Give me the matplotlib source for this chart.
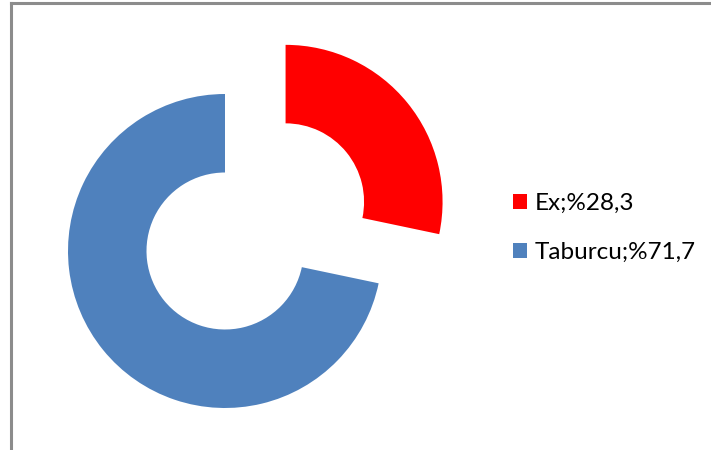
import matplotlib
matplotlib.use("Agg")
import matplotlib.pyplot as plt
from matplotlib.patches import Patch
from matplotlib.lines import Line2D

labels = ["Ex;%28,3", "Taburcu;%71,7"]
values = [28.3, 71.7]
colors = ["#FF0000", "#4F81BD"]

W, H = 711, 450
fig = plt.figure(figsize=(W / 100, H / 100), dpi=100)
ax = fig.add_axes([0, 0, 1, 1])
ax.set_xlim(0, W)
ax.set_ylim(0, H)
ax.set_aspect("equal")
ax.axis("off")

R = 157
cx, cy = 225, H - 251
ax.pie(values, colors=colors, startangle=90, counterclock=False,
       radius=R, center=(cx, cy), explode=[78, 0],
       wedgeprops=dict(width=R * 0.5, linewidth=0), frame=False)
ax.set_xlim(0, W)
ax.set_ylim(0, H)

# chart border (left and top)
ax.add_line(Line2D([10.5, 10.5], [0, H - 2.5], color="#8c8c8c", lw=2.2))
ax.add_line(Line2D([10.5, W], [H - 2.5, H - 2.5], color="#8c8c8c", lw=2.2))

handles = [Patch(facecolor=c, edgecolor="none") for c in colors]
leg = fig.legend(handles, labels, loc="center left",
                 bbox_to_anchor=(491 / W, 1 - 228 / H), frameon=False,
                 handlelength=0.6, handleheight=0.6, handletextpad=0.3,
                 labelspacing=1.15, prop=dict(family="Lato", size=17.5))

fig.savefig("out.png", dpi=100)
